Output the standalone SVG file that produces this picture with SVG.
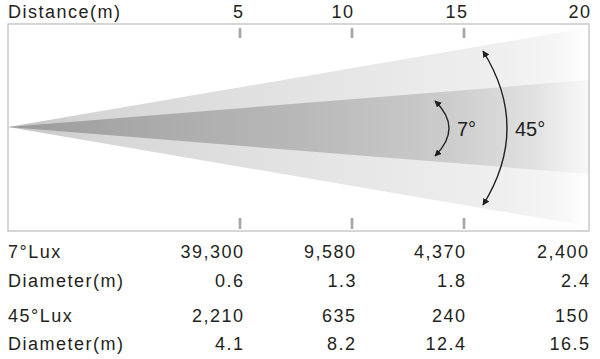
<svg xmlns="http://www.w3.org/2000/svg" width="600" height="359" viewBox="0 0 600 359">
  <style>
    .t { font-family: "Liberation Sans", Arial, sans-serif; font-size: 18px; fill: #231f20; letter-spacing: 1.5px; }
    .e { text-anchor: end; }
    .ang { font-family: "Liberation Sans", Arial, sans-serif; font-size: 20px; fill: #231f20; }
    .tick { stroke: #a8a8a8; stroke-width: 2.7; }
    .arc { fill: none; stroke: #231f20; stroke-width: 1.4; marker-start: url(#ah); marker-end: url(#ah); }
  </style>
  <defs>
    <linearGradient id="gOuter" gradientUnits="userSpaceOnUse" x1="8" y1="0" x2="589" y2="0">
      <stop offset="0" stop-color="#c4c4c4"/>
      <stop offset="0.15" stop-color="#d6d6d6"/>
      <stop offset="0.5" stop-color="#e3e3e3"/>
      <stop offset="0.85" stop-color="#efefef"/>
      <stop offset="0.95" stop-color="#f6f6f6"/>
      <stop offset="1" stop-color="#ffffff"/>
    </linearGradient>
    <linearGradient id="gInner" gradientUnits="userSpaceOnUse" x1="8" y1="0" x2="589" y2="0">
      <stop offset="0" stop-color="#9a9a9a"/>
      <stop offset="0.2" stop-color="#a8a8a8"/>
      <stop offset="0.5" stop-color="#b8b8b8"/>
      <stop offset="0.75" stop-color="#cbcbcb"/>
      <stop offset="0.9" stop-color="#e0e0e0"/>
      <stop offset="1" stop-color="#f8f8f8"/>
    </linearGradient>
    <marker id="ah" viewBox="0 0 10 10" refX="9" refY="5" markerWidth="7" markerHeight="7" markerUnits="userSpaceOnUse" orient="auto-start-reverse">
      <path d="M0,0 L10,5 L0,10 Z" fill="#231f20"/>
    </marker>
  </defs>

  <g id="beam">
    <polygon points="8,127 589,27.6 589,226.4" fill="url(#gOuter)"/>
    <polygon points="8,127 589,80 589,174" fill="url(#gInner)"/>
  </g>

  <g id="frame">
    <rect x="8" y="24" width="581" height="207" fill="none" stroke="#c8c8c8" stroke-width="1.5"/>
  </g>

  <g id="ticks">
    <line class="tick" x1="240" y1="28" x2="240" y2="38"/>
    <line class="tick" x1="352" y1="28" x2="352" y2="38"/>
    <line class="tick" x1="464" y1="28" x2="464" y2="38"/>
    <line class="tick" x1="240" y1="218" x2="240" y2="229"/>
    <line class="tick" x1="352" y1="218" x2="352" y2="229"/>
    <line class="tick" x1="464" y1="218" x2="464" y2="229"/>
  </g>

  <g id="connectors">
    <path class="arc" d="M435,101 Q463,128 435,156"/>
    <path class="arc" d="M483,51 Q531,128 483,205"/>
  </g>

  <g id="angle-labels">
    <text class="ang" x="457" y="136">7°</text>
    <text class="ang" x="515" y="136">45°</text>
  </g>

  <g id="distance-axis">
    <text class="t" x="8" y="18">Distance(m)</text>
    <text class="t e" x="244.5" y="18">5</text>
    <text class="t e" x="354.5" y="18">10</text>
    <text class="t e" x="468.5" y="18">15</text>
    <text class="t e" x="591.5" y="18">20</text>
  </g>

  <g id="table">
    <text class="t" x="8" y="258">7°Lux</text>
    <text class="t e" x="244.5" y="258">39,300</text>
    <text class="t e" x="356.5" y="258">9,580</text>
    <text class="t e" x="466.5" y="258">4,370</text>
    <text class="t e" x="589.5" y="258">2,400</text>

    <text class="t" x="8" y="287">Diameter(m)</text>
    <text class="t e" x="244.5" y="287">0.6</text>
    <text class="t e" x="357" y="287">1.3</text>
    <text class="t e" x="466.5" y="287">1.8</text>
    <text class="t e" x="590.5" y="287">2.4</text>

    <text class="t" x="8" y="322">45°Lux</text>
    <text class="t e" x="244.5" y="322">2,210</text>
    <text class="t e" x="356.5" y="322">635</text>
    <text class="t e" x="466.5" y="322">240</text>
    <text class="t e" x="589.5" y="322">150</text>

    <text class="t" x="8" y="350">Diameter(m)</text>
    <text class="t e" x="244.5" y="350">4.1</text>
    <text class="t e" x="356.5" y="350">8.2</text>
    <text class="t e" x="466.5" y="350">12.4</text>
    <text class="t e" x="590.5" y="350">16.5</text>
  </g>
</svg>
